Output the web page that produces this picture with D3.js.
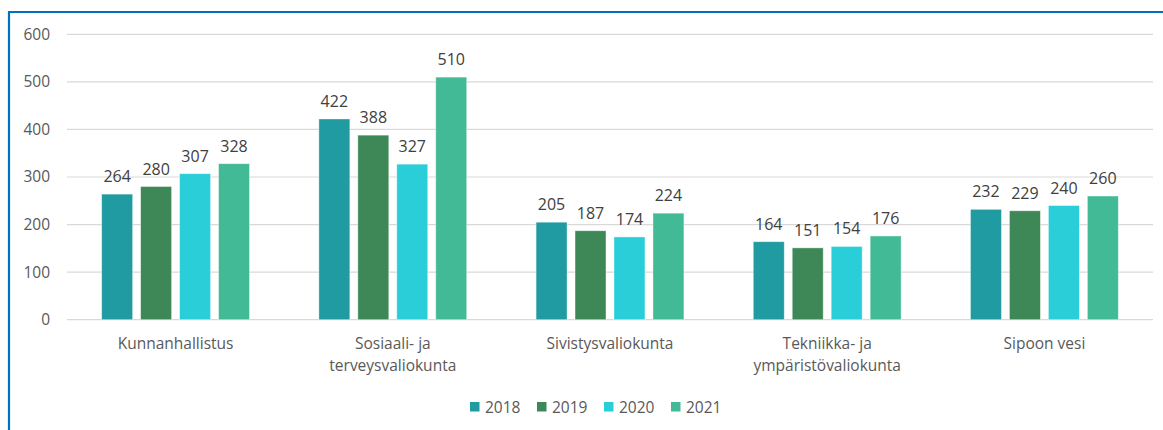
<!DOCTYPE html>
<html>
<head>
<meta charset="utf-8">
<script src="https://cdn.jsdelivr.net/npm/d3@7"></script>
<style>
  body { margin: 0; background: #fff; }
  text { font-family: "Open Sans", "Liberation Sans", sans-serif; }
</style>
</head>
<body>
<div id="chart"></div>
<script>
// chart data
const categories = [
  ["Kunnanhallistus"],
  ["Sosiaali- ja", "terveysvaliokunta"],
  ["Sivistysvaliokunta"],
  ["Tekniikka- ja", "ympäristövaliokunta"],
  ["Sipoon vesi"]
];
const years = ["2018", "2019", "2020", "2021"];
const values2018 = [264, 422, 205, 164, 232];
const values2019 = [280, 388, 187, 151, 229];
const values2020 = [307, 327, 174, 154, 240];
const values2021 = [328, 510, 224, 176, 260];
const yTicks = [0, 100, 200, 300, 400, 500, 600];

const series = [values2018, values2019, values2020, values2021];
const colors = ["#1f9ba1", "#3d8856", "#29ced8", "#43ba96"];

const width = 1163;
const height = 430;
const plot = {left: 67, right: 1153, top: 34.3, bottom: 319.7};

const svg = d3.select("#chart")
  .append("svg")
  .attr("width", width)
  .attr("height", height);

// blue frame (left + top)
svg.append("path")
  .attr("d", `M9,${height} L9,12 L${width},12`)
  .attr("fill", "none")
  .attr("stroke", "#0070c0")
  .attr("stroke-width", 2.2);

const y = d3.scaleLinear()
  .domain([0, 600])
  .range([plot.bottom, plot.top]);

const x0 = d3.scaleBand()
  .domain(d3.range(categories.length))
  .range([plot.left, plot.right])
  .padding(0);

const x1 = d3.scaleBand()
  .domain(d3.range(years.length))
  .range([0, x0.bandwidth()])
  .paddingInner(0.205)
  .paddingOuter(0.89);

// gridlines
svg.append("g")
  .selectAll("line")
  .data(yTicks)
  .enter()
  .append("line")
    .attr("x1", plot.left)
    .attr("x2", plot.right)
    .attr("y1", d => y(d))
    .attr("y2", d => y(d))
    .attr("stroke", "#d9d9d9")
    .attr("stroke-width", 1.2);

// y axis labels
const yAxis = svg.append("g")
  .attr("transform", "translate(50,0)")
  .call(d3.axisLeft(y).tickValues(yTicks).tickSize(0).tickPadding(0));
yAxis.select(".domain").remove();
yAxis.selectAll("text")
  .attr("fill", "#595959")
  .attr("font-size", "15.5px")
  .attr("font-family", "'Open Sans', sans-serif");

// bars
const groups = svg.append("g")
  .selectAll("g")
  .data(categories)
  .enter()
  .append("g")
    .attr("transform", (d, i) => `translate(${x0(i)},0)`);

groups.selectAll("rect")
  .data((d, i) => series.map((s, k) => ({k: k, v: s[i]})))
  .enter()
  .append("rect")
    .attr("x", d => x1(d.k))
    .attr("y", d => y(d.v))
    .attr("width", x1.bandwidth())
    .attr("height", d => y(0) - y(d.v))
    .attr("fill", d => colors[d.k])
    .attr("stroke", "#ffffff")
    .attr("stroke-opacity", 0.5)
    .attr("stroke-width", 0.8);

groups.selectAll(".val")
  .data((d, i) => series.map((s, k) => ({k: k, v: s[i]})))
  .enter()
  .append("text")
    .attr("class", "val")
    .attr("x", d => x1(d.k) + x1.bandwidth() / 2)
    .attr("y", d => y(d.v) - 12)
    .attr("text-anchor", "middle")
    .attr("fill", "#404040")
    .attr("font-size", "16px")
    .text(d => d.v);

// category labels
const catLabels = svg.append("g")
  .selectAll("text")
  .data(categories)
  .enter()
  .append("text")
    .attr("x", (d, i) => x0(i) + x0.bandwidth() / 2)
    .attr("y", 349)
    .attr("text-anchor", "middle")
    .attr("fill", "#595959")
    .attr("font-size", "15.5px");
catLabels.selectAll("tspan")
  .data(d => d)
  .enter()
  .append("tspan")
    .attr("x", function() { return d3.select(this.parentNode).attr("x"); })
    .attr("dy", (d, j) => j === 0 ? 0 : 22)
    .text(d => d);

// legend
const legend = svg.append("g")
  .selectAll("g")
  .data(years)
  .enter()
  .append("g")
    .attr("transform", (d, i) => `translate(${470 + i * 67},0)`);
legend.append("rect")
  .attr("x", 0)
  .attr("y", 402)
  .attr("width", 9.5)
  .attr("height", 9.5)
  .attr("fill", (d, i) => colors[i]);
legend.append("text")
  .attr("x", 15)
  .attr("y", 413)
  .attr("fill", "#595959")
  .attr("font-size", "15.5px")
  .text(d => d);
</script>
</body>
</html>
